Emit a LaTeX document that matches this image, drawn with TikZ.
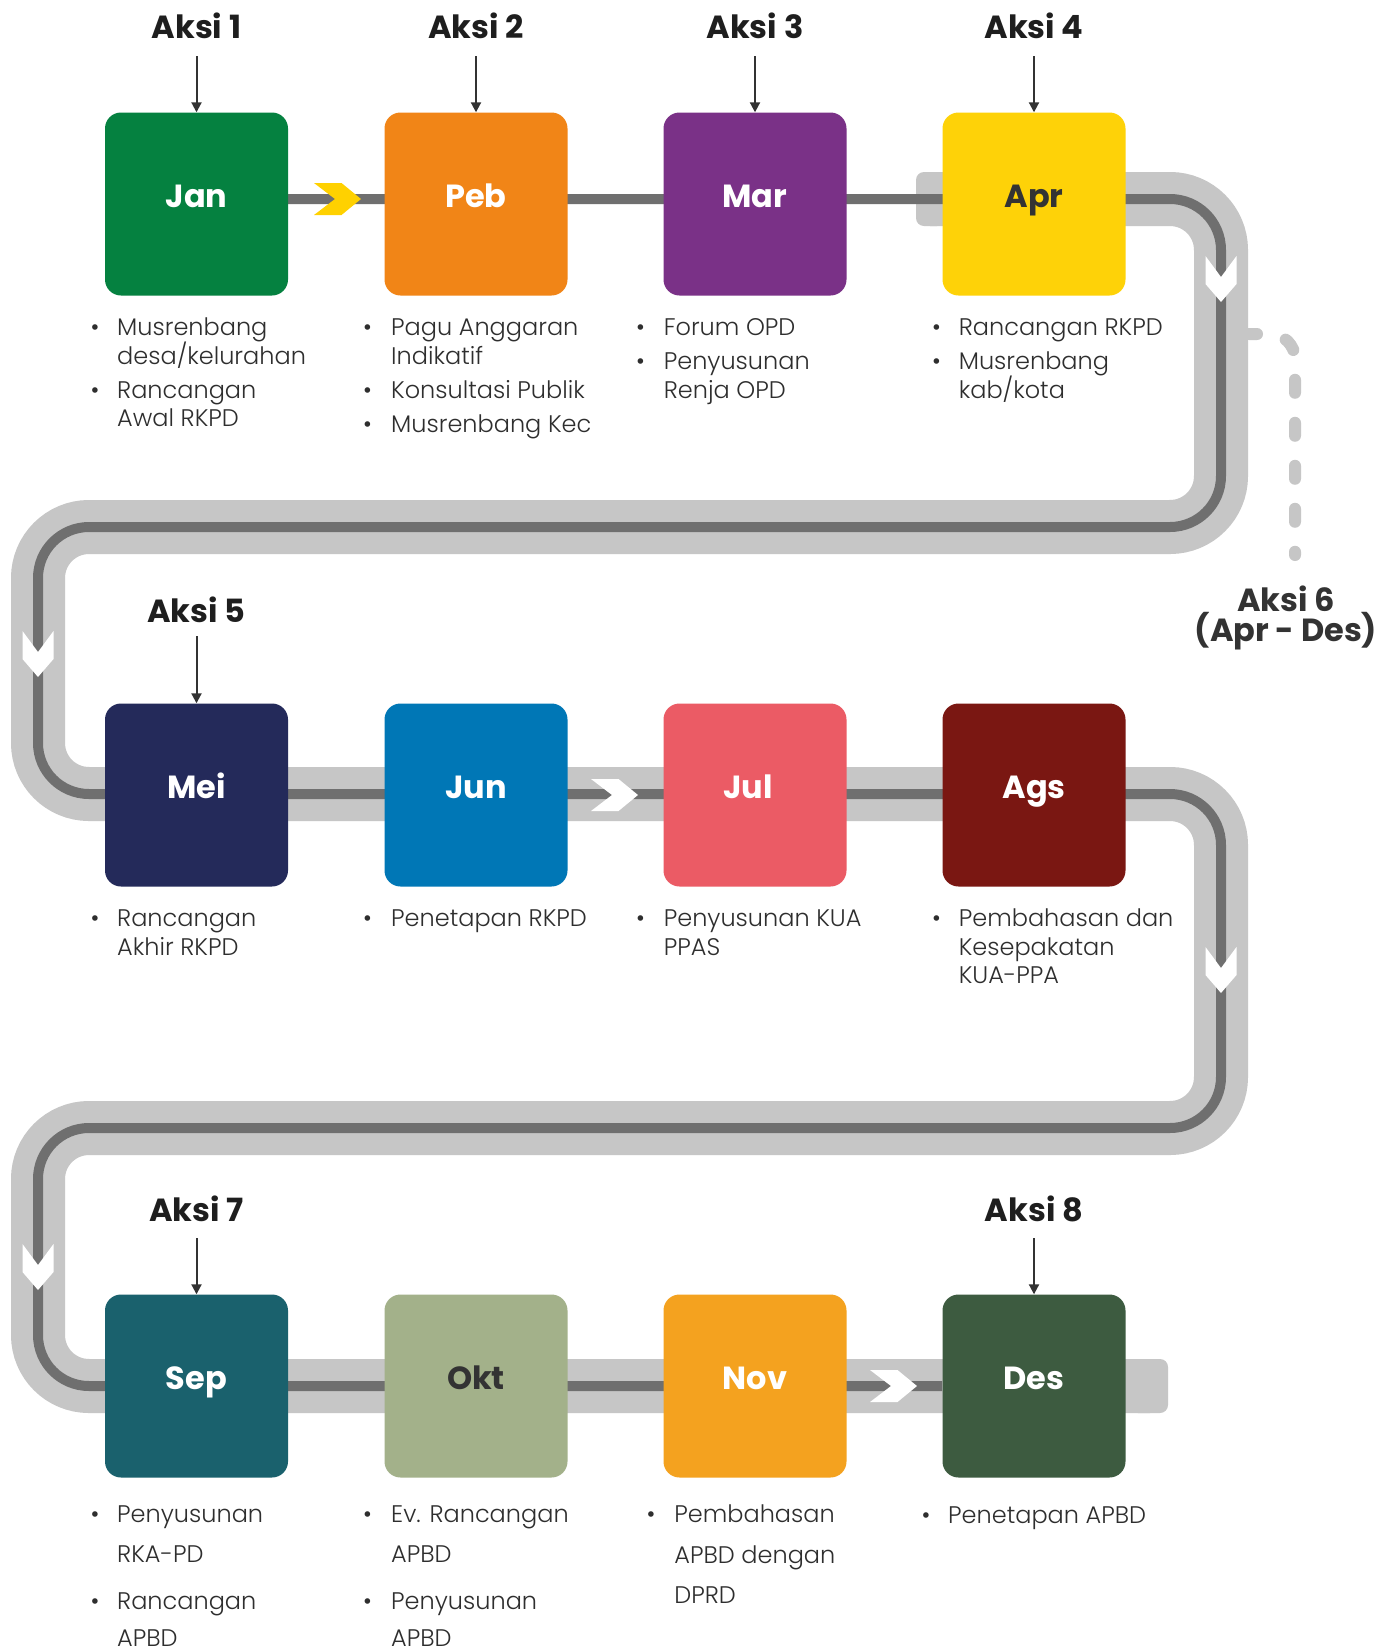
\documentclass[tikz,border=0pt]{standalone}
\usepackage{fontspec}
\setmainfont{Poppins}
\newfontfamily\lightfont{Poppins Light}
\usetikzlibrary{arrows.meta}

\definecolor{bandgray}{HTML}{C6C6C6}
\definecolor{linegray}{HTML}{6F6F6F}
\definecolor{inkdark}{HTML}{1E1E1E}
\definecolor{bodyink}{HTML}{2E2E2E}
\definecolor{darklabel}{HTML}{333333}
\definecolor{chevyellow}{HTML}{FFD100}
\definecolor{cJan}{HTML}{058140}
\definecolor{cPeb}{HTML}{F18517}
\definecolor{cMar}{HTML}{7A3187}
\definecolor{cApr}{HTML}{FED208}
\definecolor{cMei}{HTML}{242A5A}
\definecolor{cJun}{HTML}{0077B6}
\definecolor{cJul}{HTML}{EB5B65}
\definecolor{cAgs}{HTML}{7A1712}
\definecolor{cSep}{HTML}{1A616D}
\definecolor{cOkt}{HTML}{A3B18A}
\definecolor{cNov}{HTML}{F4A21F}
\definecolor{cDes}{HTML}{3D5B40}

\begin{document}
\begin{tikzpicture}[x=1pt, y=-1pt,
  monthbox/.style={draw=none, rounded corners=16pt, minimum width=183pt, minimum height=183pt,
    inner sep=0pt, font=\fontsize{32}{32}\selectfont\bfseries, text=white,
    text height=22.4pt, text depth=15pt},
  aksilabel/.style={font=\fontsize{32}{32}\selectfont\bfseries, text=inkdark,
    text height=22.4pt, text depth=0pt, inner sep=0pt},
  aksiarrow/.style={draw=darklabel, line width=2pt, -{Triangle[width=10pt,length=10pt]}},
  band/.style={draw=bandgray, line width=54pt, rounded corners=51pt},
  track/.style={draw=linegray, line width=10pt, rounded corners=51pt},
  bodytext/.style={font=\lightfont\fontsize{24}{29}\selectfont, text=bodyink,
    inner sep=0pt, anchor=base west},
  bulletmark/.style={font=\lightfont\fontsize{24}{29}\selectfont, text=bodyink,
    inner sep=0pt, anchor=base},
  rchev/.pic={\path[pic actions] (-47,-16) -- (-19.5,-16) -- (0,0) -- (-19.5,16)
    -- (-47,16) -- (-26,0) -- cycle;},
  dchev/.pic={\path[pic actions] (-15.5,-46) -- (-15.5,-18) -- (0,0) -- (15.5,-18)
    -- (15.5,-46) -- (0,-25) -- cycle;},
]
\useasboundingbox (0,0) rectangle (1380,1652);
\fill[white] (0,0) rectangle (1380,1652);

% track corners
\coordinate (r1s) at (930,199);
\coordinate (r1e) at (1221,199);
\coordinate (c1r) at (1221,527);
\coordinate (c1l) at (38,527);
\coordinate (r2l) at (38,794);
\coordinate (r2r) at (1221,794);
\coordinate (c2r) at (1221,1128);
\coordinate (c2l) at (38,1128);
\coordinate (r3l) at (38,1386);
\coordinate (r3e) at (1150,1386);
\coordinate (t0) at (280,199);

% light gray road
\path[band] (r1s) -- (r1e) -- (c1r) -- (c1l) -- (r2l) -- (r2r) -- (c2r) -- (c2l) -- (r3l) -- (r3e);
\fill[bandgray, rounded corners=8pt] (916,172) rectangle (945,226);
\fill[bandgray, rounded corners=8pt] (1130,1359) rectangle (1168,1413);

% Aksi 6 dashed branch
\coordinate (d0) at (1249,334);
\coordinate (d1) at (1295,334);
\coordinate (d2) at (1295,555);
\draw[bandgray, line width=12pt, line cap=round, dash pattern=on 13pt off 30pt,
  dash phase=5pt, rounded corners=25pt] (d0) -- (d1) -- (d2);

% dark center line
\path[track] (t0) -- (r1e) -- (c1r) -- (c1l) -- (r2l) -- (r2r) -- (c2r) -- (c2l) -- (r3l) -- (942,1386);

% direction chevrons
\pic[fill=chevyellow] at (361,199) {rchev};
\pic[fill=white] at (638,795) {rchev};
\pic[fill=white] at (917,1386) {rchev};
\pic[fill=white] at (1221,302) {dchev};
\pic[fill=white] at (38,677) {dchev};
\pic[fill=white] at (1221,993) {dchev};
\pic[fill=white] at (38,1290) {dchev};

% month boxes
\node[monthbox, fill=cJan] (jan) at (196.5,204) {Jan};
\node[monthbox, fill=cPeb] (peb) at (476,204) {Peb};
\node[monthbox, fill=cMar] (mar) at (755,204) {Mar};
\node[monthbox, fill=cApr, text=darklabel] (apr) at (1034,204) {Apr};
\node[monthbox, fill=cMei] (mei) at (196.5,795) {Mei};
\node[monthbox, fill=cJun] (jun) at (476,795) {Jun};
\node[monthbox, fill=cJul] (jul) at (755,795) {Jul\hspace*{14pt}};
\node[monthbox, fill=cAgs] (ags) at (1034,795) {Ags};
\node[monthbox, fill=cSep] (sep) at (196.5,1386) {Sep};
\node[monthbox, fill=cOkt, text=darklabel] (okt) at (476,1386) {Okt};
\node[monthbox, fill=cNov] (nov) at (755,1386) {Nov};
\node[monthbox, fill=cDes] (des) at (1034,1386) {Des};

% action labels and pointers
\node[aksilabel] (a1) at (196.5,27) {Aksi 1};
\node[aksilabel] (a2) at (476,27) {Aksi 2};
\node[aksilabel] (a3) at (755,27) {Aksi 3};
\node[aksilabel] (a4) at (1034,27) {Aksi 4};
\node[aksilabel] (a5) at (196.5,611) {Aksi 5};
\node[aksilabel] (a7) at (196.5,1210) {Aksi 7};
\node[aksilabel] (a8) at (1034,1210) {Aksi 8};
\draw[aksiarrow] ([yshift=-29pt]a1.center) -- (jan.north);
\draw[aksiarrow] ([yshift=-29pt]a2.center) -- (peb.north);
\draw[aksiarrow] ([yshift=-29pt]a3.center) -- (mar.north);
\draw[aksiarrow] ([yshift=-29pt]a4.center) -- (apr.north);
\draw[aksiarrow] ([yshift=-25pt]a5.center) -- (mei.north);
\draw[aksiarrow] ([yshift=-28pt]a7.center) -- (sep.north);
\draw[aksiarrow] ([yshift=-28pt]a8.center) -- (des.north);

\node[font=\fontsize{32}{30}\selectfont\bfseries, text=darklabel, align=center, inner sep=0pt]
  (a6) at (1286,618) {Aksi 6\\(Apr - Des)};

% bullet marks
\foreach \n/\x/\y in {
  b1/95/335.6, b2/95/398.8, b3/367.6/335.6, b4/367.6/398.8, b5/367.6/432.5,
  b6/640.5/335.6, b7/640.5/369.3, b8/936.5/335.6, b9/936.5/369.3,
  b10/95/926.6, b11/367.6/926.6, b12/640.5/926.6, b13/936.5/926.6,
  b14/95/1522.8, b15/95/1609.2, b16/367.6/1522.8, b17/367.6/1609.2,
  b18/651/1522.8, b19/926/1523.9}
  \node[bulletmark] (\n) at (\x,\y) {•};

% description lines
\foreach \n/\x/\y/\t in {
  t1/117/335.6/Musrenbang, t2/117/364/{desa/kelurahan}, t3/117/398.8/Rancangan, t4/117/426.2/{Awal RKPD},
  t5/391/335.6/{Pagu Anggaran}, t6/391/364/Indikatif, t7/391/398.8/{Konsultasi Publik}, t8/391/432.5/{Musrenbang Kec},
  t9/663.6/335.6/{Forum OPD}, t10/663.6/369.3/Penyusunan, t11/663.6/398.8/{Renja OPD},
  t12/958.6/335.6/{Rancangan RKPD}, t13/958.6/369.3/Musrenbang, t14/958.6/398.8/{kab/kota},
  t15/117/926.6/Rancangan, t16/117/955/{Akhir RKPD},
  t17/391/926.6/{Penetapan RKPD},
  t18/663.6/926.6/{Penyusunan KUA}, t19/663.6/955/PPAS,
  t20/958.6/926.6/{Pembahasan dan}, t21/958.6/955/Kesepakatan, t22/958.6/983.4/{KUA-PPA},
  t23/117/1522.8/Penyusunan, t24/117/1562.8/{RKA-PD}, t25/117/1609.2/Rancangan, t26/117/1646/APBD,
  t27/391/1522.8/{Ev. Rancangan}, t28/391/1562.8/APBD, t29/391/1609.2/Penyusunan, t30/391/1646/APBD,
  t31/674.2/1522.8/Pembahasan, t32/674.2/1563/{APBD dengan}, t33/674.2/1603/DPRD,
  t34/948/1523.9/{Penetapan APBD}}
  \node[bodytext] (\n) at (\x,\y) {\t};
\end{tikzpicture}
\end{document}
